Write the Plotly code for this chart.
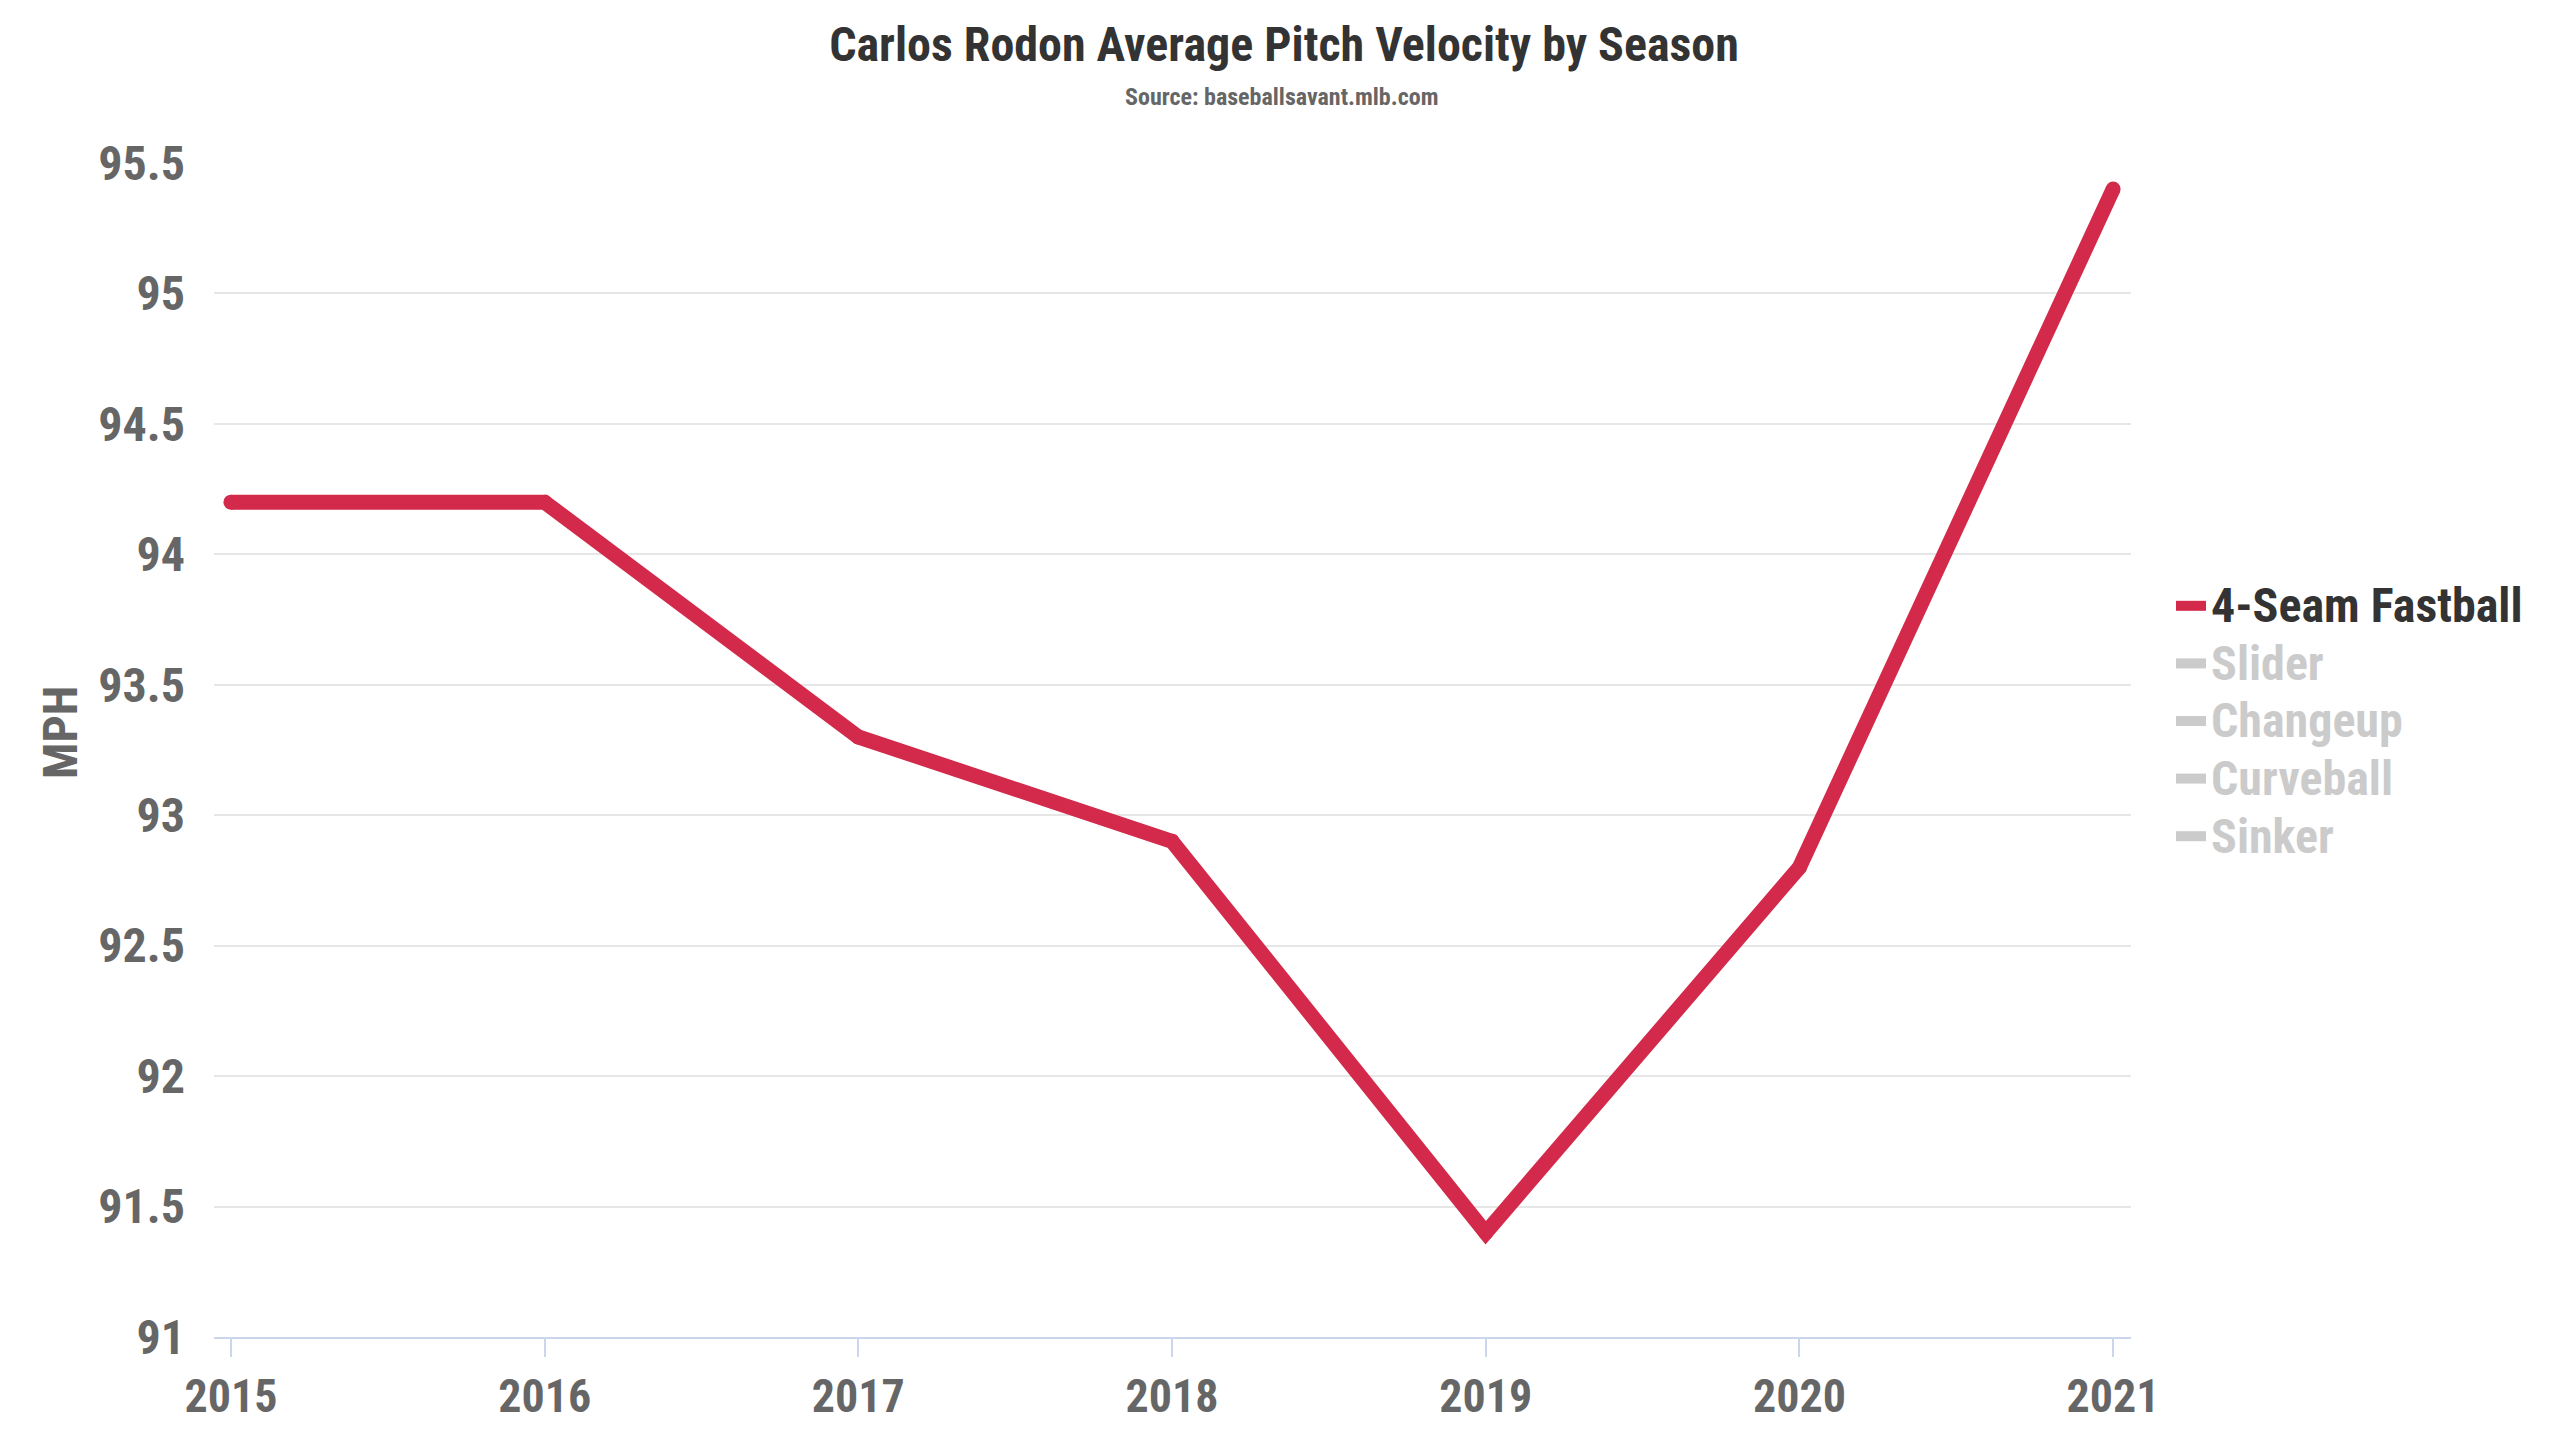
import plotly.graph_objects as go

# Carlos Rodon average velocity by season (baseballsavant)
seasons = [2015, 2016, 2017, 2018, 2019, 2020, 2021]
fastball_mph = [94.2, 94.2, 93.3, 92.9, 91.4, 92.8, 95.4]
hidden_pitches = ['Slider', 'Changeup', 'Curveball', 'Sinker']
y_ticks = [91, 91.5, 92, 92.5, 93, 93.5, 94, 94.5, 95, 95.5]
y_tick_text = ['91', '91.5', '92', '92.5', '93', '93.5', '94', '94.5', '95', '95.5']

FONT = 'Roboto Condensed, Liberation Sans Narrow, Roboto, sans-serif'
RED = '#d32a4b'
OFF = '#999999'  # drawn at half opacity by plotly for hidden traces -> light grey

# page body has an 8px margin, so the figure is 8px smaller than the window
W, H = 2552, 1432
L, R, T, B = 206, 2123, 155, 1329


def legend_name(txt, color):
    # bigger glyphs than the legend font so the rows stay tight
    return '<span style="font-size:48px;color:%s">%s</span>' % (color, txt)


fig = go.Figure()
fig.add_trace(go.Scatter(x=seasons, y=fastball_mph, name=legend_name('4-Seam Fastball', '#333333'),
                         mode='lines', line=dict(color=RED, width=15), hoverinfo='x+y'))
# round ends of the line
fig.add_trace(go.Scatter(x=seasons, y=fastball_mph, mode='markers', showlegend=False,
                         marker=dict(color=RED, size=15), hoverinfo='skip'))
# the other pitches are switched off in the original, only their legend entries show
for p in hidden_pitches:
    fig.add_trace(go.Scatter(x=seasons, y=[None] * len(seasons), mode='lines', visible='legendonly',
                             line=dict(color=OFF, width=15), name=legend_name(p, OFF)))

fig.update_layout(
    width=W, height=H,
    margin=dict(l=L, r=W - R, t=T, b=H - B),
    paper_bgcolor='white', plot_bgcolor='white',
    font=dict(family=FONT, color='#666666'),
    title=dict(text='Carlos Rodon Average Pitch Velocity by Season', xref='container', x=0.5, xanchor='center',
               y=1 - 36 / H, yanchor='middle', font=dict(family=FONT, size=48, color='#333333', weight='bold')),
    showlegend=True,
    legend=dict(x=(2163 - L) / (R - L), xanchor='left', y=(B - 713) / (B - T), yanchor='middle',
                bgcolor='rgba(0,0,0,0)', tracegroupgap=0,
                font=dict(family=FONT, size=42, color='#333333', weight='bold')),
    xaxis=dict(range=[2014.946, 2021.057], tickvals=seasons, ticks='outside', ticklen=18, tickwidth=2,
               tickcolor='#ccd6eb', showline=True, linecolor='#ccd6eb', linewidth=2, showgrid=False,
               zeroline=False, tickfont=dict(family=FONT, size=46, color='#666666', weight='bold')),
    yaxis=dict(range=[91, 95.5], tickvals=y_ticks, ticktext=y_tick_text, showgrid=True, gridcolor='#e6e6e6',
               gridwidth=2, zeroline=False, showline=False, ticks='', ticklabelstandoff=28,
               tickfont=dict(family=FONT, size=48, color='#666666', weight='bold')),
    annotations=[
        dict(text='Source: baseballsavant.mlb.com', xref='paper', yref='paper',
             x=(1273 - L) / (R - L), y=(B - 89) / (B - T), xanchor='center', yanchor='middle', showarrow=False,
             font=dict(family=FONT, size=24, color='#666666', weight='bold')),
        dict(text='MPH', xref='paper', yref='paper', x=(52 - L) / (R - L), y=(B - 725) / (B - T),
             xanchor='center', yanchor='middle', textangle=-90, showarrow=False,
             font=dict(family=FONT, size=48, color='#666666', weight='bold')),
    ],
)

fig.write_html('out.html')
